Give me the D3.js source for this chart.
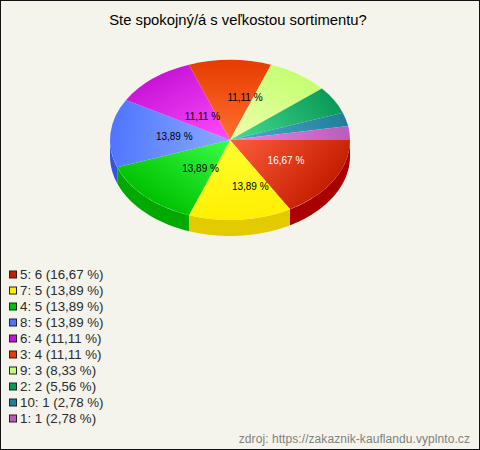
<!DOCTYPE html>
<html><head><meta charset="utf-8">
<script src="https://cdn.jsdelivr.net/npm/d3@7"></script>
<style>html,body{margin:0;padding:0;background:#f5f4ec}svg{display:block}text{font-family:"Liberation Sans",Arial,sans-serif}</style>
</head><body><svg id="c" width="480" height="450"></svg>
<script>
const titleText = "Ste spokojný/á s veľkostou sortimentu?";
const sourceText = "zdroj: https://zakaznik-kauflandu.vyplnto.cz";
const categories = ["5","7","4","8","6","3","9","2","10","1"];
const counts = [6,5,5,5,4,4,3,2,1,1];
const percents = ["16,67","13,89","13,89","13,89","11,11","11,11","8,33","5,56","2,78","2,78"];
const swatchColors = ["#c41e00","#ffee00","#00c000","#4f75ff","#c814d8","#e63c00","#c4ff70","#0a9a58","#1f7f9a","#ba5cba"];
const innerColors = ["#ff5c3e","#ffff30","#38ff48","#8aaaff","#ff4cff","#ff7030","#f0ffb0","#48dd90","#50b0cc","#e888e8"];
const sideColors = ["#aa0000","#e3cb00","#00a800","#3355dd","#a000a8","#c03000","#a0d050","#087a40","#186070","#904890"];
const labelColors = ["#fff","#000","#000","#000","#000","#000"];
const labelNudge = [[-11,0],[0,7],[-2,0],[-11,0],[-4,7],[0,-3]];

const W=480,H=450,cx=230,cy=140,rx=120,ry=80,depth=16;
const svg=d3.select("#c");
svg.append("rect").attr("x",0.5).attr("y",0.5).attr("width",W-1).attr("height",H-1).attr("fill","#f5f4ec").attr("stroke","#111");
svg.append("text").attr("x",238).attr("y",25).attr("text-anchor","middle").attr("font-size",14.8).attr("fill","#000").text(titleText);

const pie=d3.pie().sort(null).startAngle(Math.PI/2).endAngle(Math.PI*2.5);
const arcs=pie(counts);
const defs=svg.append("defs");
const ex=a=>cx+rx*Math.sin(a), ey=a=>cy-ry*Math.cos(a);

// side wall, only the front half of the rim is visible
const gSide=svg.append("g");
arcs.forEach((d,i)=>{
  const a0=Math.max(d.startAngle,Math.PI/2), a1=Math.min(d.endAngle,Math.PI*1.5);
  if(a1<=a0) return;
  const p=d3.path();
  const n=40;
  const pts=d3.range(n+1).map(k=>a0+(a1-a0)*k/n);
  pts.forEach((a,k)=>k?p.lineTo(ex(a),ey(a)):p.moveTo(ex(a),ey(a)));
  pts.slice().reverse().forEach(a=>p.lineTo(ex(a),ey(a)+depth));
  p.closePath();
  gSide.append("path").attr("d",p.toString()).attr("fill",sideColors[i]);
});

// top face: circle arc squashed to an ellipse
const arc=d3.arc().innerRadius(0).outerRadius(rx);
const gTop=svg.append("g").attr("transform",`translate(${cx},${cy}) scale(1,${ry/rx})`);
arcs.forEach((d,i)=>{
  const m=(d.startAngle+d.endAngle)/2;
  const g=defs.append("linearGradient").attr("id","g"+i).attr("gradientUnits","userSpaceOnUse")
    .attr("x1",0).attr("y1",0).attr("x2",rx*Math.sin(m)).attr("y2",-rx*Math.cos(m));
  g.append("stop").attr("offset",0).attr("stop-color",innerColors[i]);
  g.append("stop").attr("offset",1).attr("stop-color",swatchColors[i]);
  gTop.append("path").attr("d",arc(d)).attr("fill",`url(#g${i})`);
});

// percent labels
arcs.slice(0,6).forEach((d,i)=>{
  const m=(d.startAngle+d.endAngle)/2;
  svg.append("text").attr("text-anchor","middle").attr("font-size",10)
    .attr("x",cx+15+0.5*rx*Math.sin(m)+labelNudge[i][0])
    .attr("y",cy+3.5-0.5*ry*Math.cos(m)+labelNudge[i][1])
    .attr("fill",labelColors[i]).text(percents[i]+" %");
});

// legend
const legendY=d3.scalePoint().domain(categories).range([274,418]);
const leg=svg.append("g");
categories.forEach((c,i)=>{
  const y=legendY(c);
  leg.append("rect").attr("x",9.5).attr("y",y-3).attr("width",7).attr("height",7).attr("fill",swatchColors[i]).attr("stroke","#222");
  leg.append("text").attr("x",20).attr("y",y+4.5).attr("font-size",13.3).attr("fill","#2a2a2a")
    .text(`${c}: ${counts[i]} (${percents[i]} %)`);
});
svg.append("text").attr("x",470).attr("y",443).attr("text-anchor","end").attr("font-size",12).attr("letter-spacing",0.07).attr("fill","#808080").text(sourceText);
</script></body></html>
